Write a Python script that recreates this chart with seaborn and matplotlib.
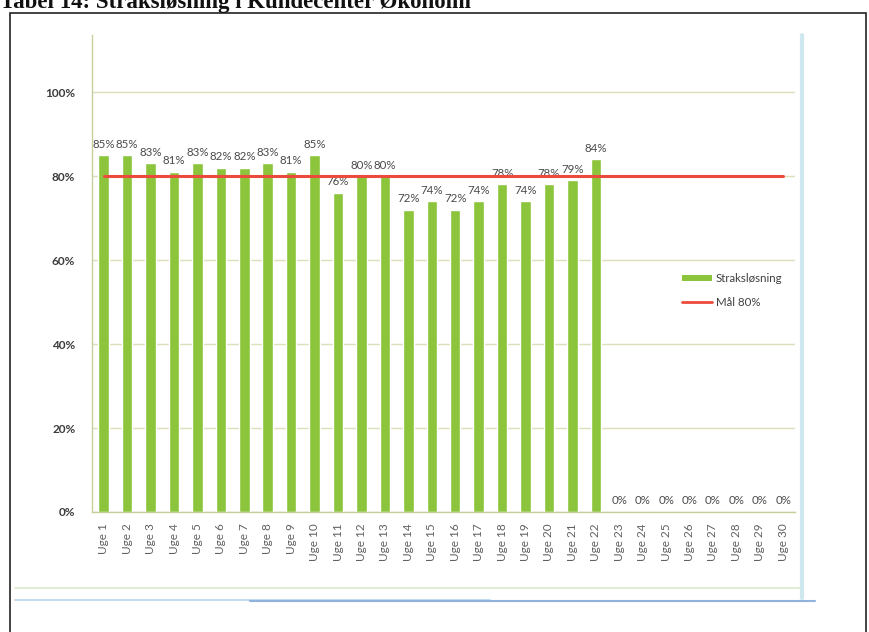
import numpy as np
import matplotlib
matplotlib.use("Agg")
import matplotlib.pyplot as plt
import seaborn as sns
from matplotlib.patches import Patch, Rectangle
from matplotlib.lines import Line2D

weeks = ["Uge %d" % i for i in range(1, 31)]
straks = [85, 85, 83, 81, 83, 82, 82, 83, 81, 85, 76, 80, 80, 72, 74,
          72, 74, 78, 74, 78, 79, 84, 0, 0, 0, 0, 0, 0, 0, 0]
maal = [80] * 30
title = "Tabel 14: Straksløsning i Kundecenter Økonomi"

green = "#8cc43c"
red = "#ec4a3c"
grid_col = "#dcdfb8"
axis_col = "#c9cd9c"

sns.set_style("white")
plt.rcParams["font.family"] = ["Lato", "DejaVu Sans"]

fig = plt.figure(figsize=(8.69, 6.32), dpi=100)
ax = fig.add_axes([92 / 869, 1 - 512 / 632, 703 / 869, 477 / 632])

sns.barplot(x=weeks, y=straks, color=green, width=0.45, saturation=1, ax=ax)
ax.plot(np.arange(len(weeks)), maal, color=red, lw=2.2, zorder=4)

ax.bar_label(ax.containers[0], labels=["%d%%" % v for v in straks],
             padding=4, fontsize=8.3, color="#4a4a4a")

ax.set_xlim(-0.5, len(weeks) - 0.5)
ax.set_ylim(0, 113.6)
ax.set_yticks(range(0, 101, 20))
ax.set_yticklabels(["%d%%" % v for v in range(0, 101, 20)],
                   fontsize=8.5, color="#3c3c3c", fontweight="bold")
ax.set_xticks(range(len(weeks)))
ax.set_xticklabels(weeks, rotation=90, fontsize=8.5, color="#606060")
ax.set_xticks(np.arange(-0.5, len(weeks), 1), minor=True)
ax.tick_params(axis="x", which="major", length=0, pad=8)
ax.tick_params(axis="x", which="minor", length=4, color=axis_col, direction="out")
ax.tick_params(axis="y", length=4, color=axis_col, direction="out", pad=8)
ax.set_xlabel("")
ax.set_ylabel("")

ax.yaxis.grid(True, color=grid_col, lw=1)
ax.set_axisbelow(True)
for s in ["top", "right"]:
    ax.spines[s].set_visible(False)
for s in ["left", "bottom"]:
    ax.spines[s].set_color(axis_col)
    ax.spines[s].set_linewidth(1)

handles = [Patch(facecolor=green, edgecolor="none"),
           Line2D([0], [0], color=red, lw=2)]
ax.legend(handles, ["Straksløsning", "Mål 80%"], loc="center left",
          bbox_to_anchor=(0.825, 0.465), frameon=False, fontsize=8.3,
          handlelength=2.6, handleheight=0.45, handletextpad=0.3,
          labelspacing=1.1, labelcolor="#404040")

# document frame and scanned chart-frame lines
fig.patches.append(Rectangle((10 / 869, -0.01), 856 / 869, 1 - 13 / 632 + 0.01,
                             transform=fig.transFigure, fill=False,
                             edgecolor="#222222", lw=1.2))
fig.lines.append(Line2D([802 / 869, 802 / 869], [1 - 35 / 632, 1 - 598 / 632],
                        transform=fig.transFigure, color="#cfe8f0", lw=3))
fig.lines.append(Line2D([15 / 869, 800 / 869], [1 - 588 / 632, 1 - 588 / 632],
                        transform=fig.transFigure, color="#dde8cc", lw=1.2))
fig.lines.append(Line2D([15 / 869, 490 / 869], [1 - 600 / 632, 1 - 600 / 632],
                        transform=fig.transFigure, color="#b9d4ea", lw=1.2))
fig.lines.append(Line2D([250 / 869, 815 / 869], [1 - 601 / 632, 1 - 601 / 632],
                        transform=fig.transFigure, color="#8fb3dc", lw=1.5))

fig.text(0, 1 - 8 / 632, title, family="Liberation Serif", fontweight="bold",
         fontsize=16.5, va="baseline", ha="left", color="#111111")

fig.savefig("out.png", dpi=100)
